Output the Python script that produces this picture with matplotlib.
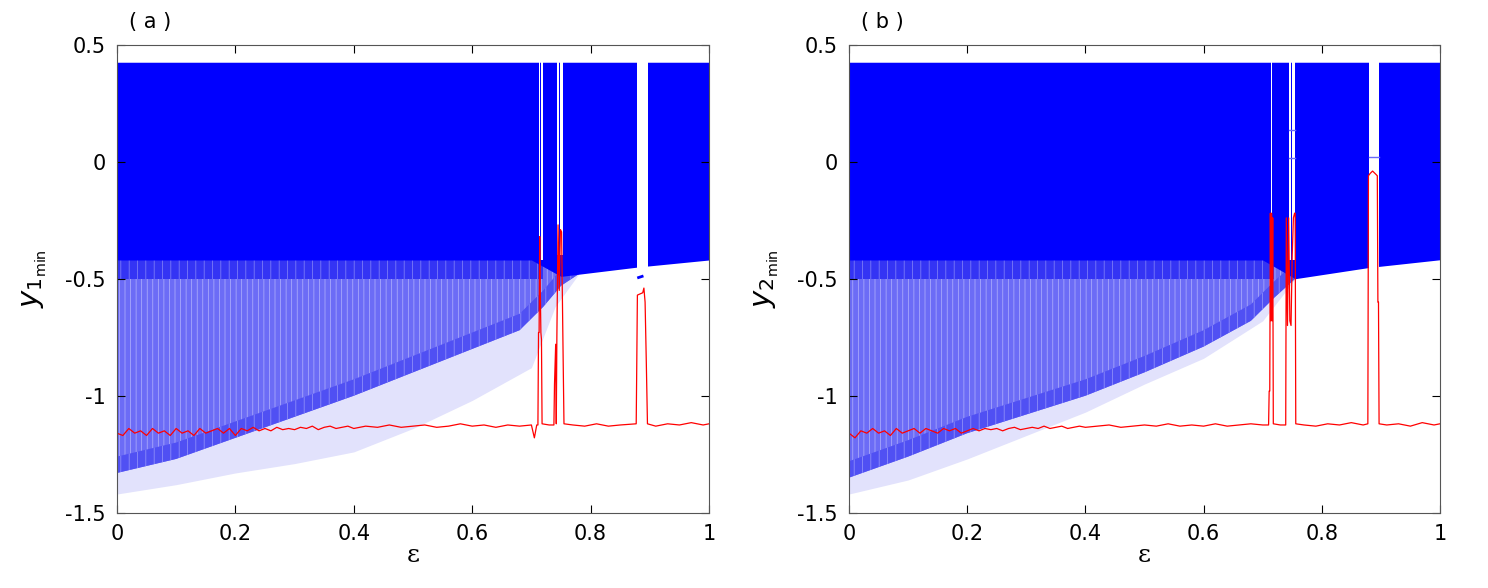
import numpy as np
import matplotlib
matplotlib.use("Agg")
import matplotlib.pyplot as plt
from matplotlib.ticker import FormatStrFormatter

plt.rcParams["font.family"] = "DejaVu Sans"
plt.rcParams["font.size"] = 15
plt.rcParams["axes.unicode_minus"] = False
plt.rcParams["hatch.linewidth"] = 0.5

# ---- panel (a) ----
# solid blue band (minima densely filling -0.42..0.425)
band_top = 0.425
band_x_a = [0.0, 0.70, 0.75, 0.88, 1.0]
band_lo_a = [-0.42, -0.42, -0.49, -0.45, -0.42]
# white gaps cut through the band: start, end, lower edge
gap_x0_a = [0.7125, 0.717, 0.743, 0.749, 0.879]
gap_x1_a = [0.7145, 0.719, 0.747, 0.754, 0.897]
gap_lo_a = [-0.42, -0.42, -0.40, -0.40, -0.50]
# dotted cloud of minima below the band
dense_x_a = [0.0, 0.1, 0.2, 0.3, 0.4, 0.5, 0.6, 0.68, 0.72, 0.75, 0.78]
dense_lo_a = [-1.33, -1.27, -1.18, -1.09, -1.0, -0.90, -0.80, -0.72, -0.62, -0.53, -0.48]
sparse_x_a = [0.0, 0.1, 0.2, 0.3, 0.4, 0.5, 0.6, 0.7, 0.74, 0.78]
sparse_lo_a = [-1.42, -1.38, -1.33, -1.29, -1.24, -1.14, -1.02, -0.88, -0.62, -0.48]
# red curve
red_x_a = [0.0, 0.01, 0.02, 0.03, 0.04, 0.05, 0.06, 0.07, 0.08, 0.09, 0.10, 0.11, 0.12,
           0.13, 0.14, 0.15, 0.16, 0.17, 0.18, 0.19, 0.20, 0.21, 0.22, 0.23, 0.24, 0.25,
           0.26, 0.27, 0.28, 0.29, 0.30, 0.31, 0.32, 0.33, 0.34, 0.35, 0.36, 0.37, 0.38,
           0.39, 0.40, 0.42, 0.44, 0.46, 0.48, 0.50, 0.52, 0.54, 0.56, 0.58, 0.60, 0.62,
           0.64, 0.66, 0.68, 0.70, 0.705, 0.709,
           0.711, 0.712, 0.713, 0.714, 0.715, 0.716, 0.717, 0.718,
           0.73, 0.738, 0.739, 0.741, 0.742, 0.743, 0.745, 0.747, 0.749, 0.751, 0.753, 0.755,
           0.77, 0.79, 0.81, 0.83, 0.85, 0.877, 0.878, 0.879, 0.888, 0.890, 0.892, 0.894, 0.896,
           0.91, 0.93, 0.95, 0.97, 0.99, 1.0]
red_y_a = [-1.16, -1.17, -1.14, -1.16, -1.15, -1.17, -1.14, -1.16, -1.15, -1.17, -1.14, -1.16, -1.15,
           -1.17, -1.14, -1.16, -1.15, -1.14, -1.16, -1.14, -1.17, -1.14, -1.15, -1.135, -1.15, -1.14,
           -1.15, -1.135, -1.145, -1.14, -1.145, -1.135, -1.14, -1.13, -1.145, -1.135, -1.13, -1.14, -1.135,
           -1.13, -1.14, -1.13, -1.135, -1.125, -1.135, -1.13, -1.125, -1.135, -1.13, -1.12, -1.13, -1.125,
           -1.135, -1.125, -1.13, -1.125, -1.18, -1.125,
           -1.125, -0.73, -0.73, -0.32, -0.55, -0.73, -0.76, -1.12,
           -1.125, -1.125, -0.95, -0.78, -1.12, -0.75, -0.27, -0.55, -0.29, -0.30, -0.72, -1.12,
           -1.125, -1.13, -1.12, -1.13, -1.125, -1.12, -0.85, -0.57, -0.56, -0.54, -0.60, -0.85, -1.12,
           -1.13, -1.12, -1.125, -1.115, -1.125, -1.12]
# small blue mark inside the wide gap
mark_x_a = [0.881, 0.887]
mark_y_a = [-0.495, -0.49]

# ---- panel (b) ----
band_x_b = [0.0, 0.70, 0.755, 0.88, 1.0]
band_lo_b = [-0.42, -0.42, -0.50, -0.452, -0.419]
gap_x0_b = [0.714, 0.745, 0.749, 0.880]
gap_x1_b = [0.716, 0.748, 0.755, 0.897]
gap_lo_b = [-0.42, -0.42, -0.42, -0.50]
dense_x_b = [0.0, 0.1, 0.2, 0.3, 0.4, 0.5, 0.6, 0.68, 0.72, 0.755]
dense_lo_b = [-1.35, -1.26, -1.16, -1.08, -1.0, -0.90, -0.79, -0.68, -0.58, -0.50]
sparse_x_b = [0.0, 0.1, 0.2, 0.3, 0.4, 0.5, 0.6, 0.7, 0.74, 0.755]
sparse_lo_b = [-1.42, -1.36, -1.27, -1.17, -1.07, -0.95, -0.84, -0.68, -0.55, -0.50]
red_x_b = [0.0, 0.01, 0.02, 0.03, 0.04, 0.05, 0.06, 0.07, 0.08, 0.09, 0.10, 0.11, 0.12,
           0.13, 0.14, 0.15, 0.16, 0.17, 0.18, 0.19, 0.20, 0.21, 0.22, 0.23, 0.24, 0.25,
           0.26, 0.27, 0.28, 0.29, 0.30, 0.31, 0.32, 0.33, 0.34, 0.35, 0.36, 0.37, 0.38,
           0.39, 0.40, 0.42, 0.44, 0.46, 0.48, 0.50, 0.52, 0.54, 0.56, 0.58, 0.60, 0.62,
           0.64, 0.66, 0.68, 0.70,
           0.710, 0.711, 0.712, 0.713, 0.714, 0.715, 0.716, 0.717, 0.718,
           0.73, 0.739, 0.740, 0.742, 0.744, 0.746, 0.748, 0.750, 0.752, 0.754, 0.755, 0.756,
           0.77, 0.79, 0.81, 0.83, 0.85, 0.87, 0.878, 0.879, 0.882, 0.886, 0.890, 0.894, 0.895,
           0.896, 0.897, 0.91, 0.93, 0.95, 0.97, 0.99, 1.0]
red_y_b = [-1.16, -1.18, -1.15, -1.16, -1.14, -1.16, -1.15, -1.17, -1.14, -1.16, -1.15, -1.14, -1.16,
           -1.14, -1.15, -1.16, -1.14, -1.15, -1.14, -1.16, -1.15, -1.14, -1.15, -1.14, -1.145, -1.14,
           -1.15, -1.14, -1.135, -1.145, -1.14, -1.135, -1.14, -1.13, -1.14, -1.135, -1.13, -1.14, -1.135,
           -1.13, -1.135, -1.13, -1.125, -1.135, -1.13, -1.125, -1.13, -1.12, -1.13, -1.125, -1.13, -1.12,
           -1.13, -1.125, -1.12, -1.125,
           -1.125, -0.98, -0.98, -0.22, -0.68, -0.22, -0.68, -0.24, -1.12,
           -1.125, -1.125, -0.24, -0.70, -0.24, -0.68, -0.70, -0.40, -0.24, -0.22, -0.22, -1.12,
           -1.125, -1.13, -1.12, -1.125, -1.115, -1.125, -1.12, -0.06, -0.05, -0.04, -0.05, -0.06, -0.60,
           -0.60, -1.12, -1.125, -1.12, -1.13, -1.115, -1.125, -1.12]
# thin blue horizontal marks inside gaps: x0, x1, y
mark_x0_b = [0.745, 0.745, 0.880]
mark_x1_b = [0.755, 0.755, 0.897]
mark_y_b = [0.137, 0.017, 0.018]

blue = "#0000ff"
dense_col = "#6c6cf6"
strip_col = "#3434f4"
edge_col = "#5050f3"
sparse_col = "#e2e2fc"


def draw_panel(ax, band_x, band_lo, gx0, gx1, glo, dx, dlo, sx, slo, rx, ry):
    # sparse cloud, then dense cloud, then darker strips, then the solid band
    ax.fill_between(sx, slo, -0.42, color=sparse_col, lw=0)
    ax.fill_between(dx, dlo, -0.42, facecolor=dense_col, edgecolor="#b4b4fc",
                    hatch="|||", lw=0)
    ax.fill_between(dx, dlo, np.array(dlo) + 0.07, facecolor=edge_col,
                    edgecolor="#9a9afa", hatch="||", lw=0)
    ax.fill_between([0, 0.72], [-0.50, -0.50], [-0.42, -0.42], facecolor=strip_col,
                    edgecolor="#8a8af8", hatch="||", lw=0)
    ax.fill_between(band_x, band_lo, band_top, color=blue, lw=0)
    for a, b, lo in zip(gx0, gx1, glo):
        ax.fill_between([a, b], [lo, lo], [band_top + 0.005] * 2, color="white", lw=0)
    ax.plot(rx, ry, color="red", lw=0.9)

    ax.set_xlim(0, 1)
    ax.set_ylim(-1.5, 0.5)
    ax.set_xticks([0, 0.2, 0.4, 0.6, 0.8, 1])
    ax.set_yticks([-1.5, -1, -0.5, 0, 0.5])
    ax.xaxis.set_major_formatter(FormatStrFormatter("%g"))
    ax.yaxis.set_major_formatter(FormatStrFormatter("%g"))
    ax.tick_params(direction="in", top=True, right=True, length=6, width=0.8, pad=8)
    for s in ax.spines.values():
        s.set_color("#555555")
    ax.set_xlabel("ε", fontsize=18, family="DejaVu Serif", labelpad=0)


fig = plt.figure(figsize=(14.88, 5.88), dpi=100)
ax1 = fig.add_axes([0.0786, 0.128, 0.3979, 0.796])
ax2 = fig.add_axes([0.5706, 0.128, 0.3971, 0.796])

draw_panel(ax1, band_x_a, band_lo_a, gap_x0_a, gap_x1_a, gap_lo_a,
           dense_x_a, dense_lo_a, sparse_x_a, sparse_lo_a, red_x_a, red_y_a)
ax1.plot(mark_x_a, mark_y_a, color=blue, lw=2)
ax1.set_ylabel(r"$y_{1_{\mathrm{min}}}$", fontsize=21, labelpad=12)
ax1.text(0.02, 1.035, "( a )", transform=ax1.transAxes, fontsize=15)

draw_panel(ax2, band_x_b, band_lo_b, gap_x0_b, gap_x1_b, gap_lo_b,
           dense_x_b, dense_lo_b, sparse_x_b, sparse_lo_b, red_x_b, red_y_b)
for a, b, y in zip(mark_x0_b, mark_x1_b, mark_y_b):
    ax2.plot([a, b], [y, y], color="#6a6af8", lw=1)
ax2.set_ylabel(r"$y_{2_{\mathrm{min}}}$", fontsize=21, labelpad=12)
ax2.text(0.02, 1.035, "( b )", transform=ax2.transAxes, fontsize=15)

fig.savefig("out.png", dpi=100)
